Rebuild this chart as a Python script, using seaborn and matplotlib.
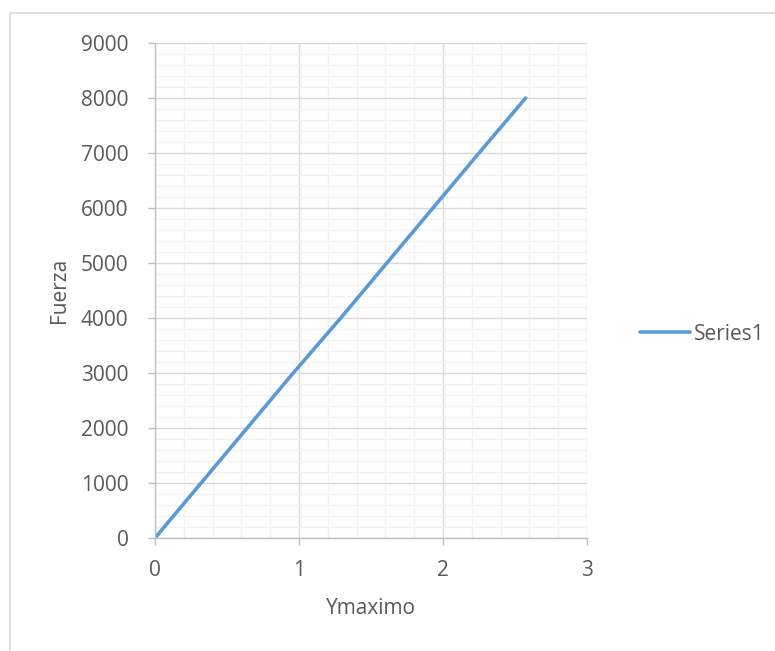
import matplotlib
matplotlib.use("Agg")
import matplotlib.pyplot as plt
import seaborn as sns
import pandas as pd
from matplotlib.patches import Rectangle
from matplotlib.ticker import MultipleLocator

ymaximo = [0.0, 0.32, 0.64, 0.96, 1.29, 1.61, 1.93, 2.25, 2.574]
fuerza = [0, 1000, 2000, 3000, 4000, 5000, 6000, 7000, 8000]
series_name = "Series1"

df = pd.DataFrame({"Ymaximo": ymaximo, "Fuerza": fuerza, "serie": series_name})

sns.set_theme(style="white")
plt.rcParams['font.family'] = ['Open Sans', 'DejaVu Sans']

W, H = 775, 651
FS = 15
fig = plt.figure(figsize=(W / 100, H / 100), dpi=100)
ax = fig.add_axes([155 / W, (H - 538) / H, (587 - 155) / W, (538 - 43) / H])

sns.lineplot(data=df, x="Ymaximo", y="Fuerza", hue="serie", palette=["#5B9BD5"],
             linewidth=2.6, ax=ax, legend=True)

ax.set_xlim(0, 3)
ax.set_ylim(0, 9000)
ax.xaxis.set_major_locator(MultipleLocator(1))
ax.xaxis.set_minor_locator(MultipleLocator(0.2))
ax.yaxis.set_major_locator(MultipleLocator(1000))
ax.yaxis.set_minor_locator(MultipleLocator(200))
ax.grid(which="major", color="#D9D9D9", linewidth=1.0, zorder=0)
ax.grid(which="minor", color="#F2F2F2", linewidth=1.0, zorder=0)
ax.set_axisbelow(True)

for s in ["top", "right"]:
    ax.spines[s].set_visible(False)
for s in ["left", "bottom"]:
    ax.spines[s].set_color("#BFBFBF")
    ax.spines[s].set_linewidth(1.0)

ax.tick_params(which="major", direction="out", length=5, width=1, color="#BFBFBF",
               labelsize=FS, labelcolor="#595959", left=True, bottom=True)
ax.tick_params(which="minor", length=0)
ax.tick_params(axis="y", pad=14)
ax.tick_params(axis="x", pad=11)

ax.set_xlabel("Ymaximo", fontsize=FS, color="#595959", labelpad=12)
ax.set_ylabel("Fuerza", fontsize=FS, color="#595959", labelpad=8)

leg = ax.legend(loc="center left", bbox_to_anchor=(630 / W, (H - 334) / H),
                bbox_transform=fig.transFigure, frameon=False, fontsize=FS,
                handlelength=2.4, handletextpad=0.15, borderpad=0)
for t in leg.get_texts():
    t.set_color("#595959")
for l in leg.get_lines():
    l.set_linewidth(2.6)

fig.patches.append(Rectangle((10 / W, -0.1), 1.2, (H - 13) / H + 0.1,
                             transform=fig.transFigure, fill=False,
                             edgecolor="#D9D9D9", linewidth=1.2))

fig.savefig("out.png", dpi=100, facecolor="white")
